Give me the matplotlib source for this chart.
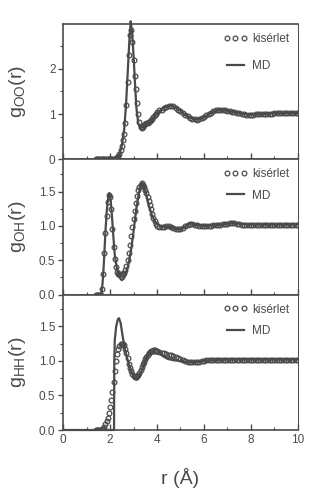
import matplotlib
matplotlib.use("Agg")
import matplotlib.pyplot as plt
import numpy as np

plt.rcParams["font.family"] = ["Liberation Sans", "DejaVu Sans"]

# experimental grid: 0.05 A steps up to 4 A, then 0.1 A steps
R_FINE = np.round(np.arange(1.40, 4.001, 0.05), 2)
R_COARSE = np.round(np.arange(4.1, 10.001, 0.1), 1)
r_exp = np.concatenate([R_FINE, R_COARSE])

# g_OO(r), experiment
goo_exp = [0.0] * 17 + [
    0.02, 0.04, 0.07, 0.12, 0.20, 0.30, 0.42, 0.55, 0.80, 1.20,
    1.70, 2.30, 2.75, 2.85, 2.60, 2.20, 1.85, 1.55, 1.25, 1.00,
    0.82, 0.72, 0.70, 0.72, 0.76, 0.79, 0.80, 0.81, 0.82, 0.84,
    0.86, 0.89, 0.93, 0.97, 1.00, 1.04,
] + [
    1.08, 1.10, 1.13, 1.15, 1.17, 1.18, 1.17, 1.14, 1.10, 1.06,
    1.02, 0.98, 0.95, 0.92, 0.90, 0.89, 0.88, 0.89, 0.91, 0.94,
    0.97, 1.00, 1.03, 1.06, 1.08, 1.09, 1.10, 1.09, 1.08, 1.07,
    1.06, 1.05, 1.04, 1.03, 1.02, 1.01, 1.00, 0.99, 0.99, 0.99,
    0.99, 1.00, 1.00, 1.00, 1.01, 1.01, 1.01, 1.01, 1.01, 1.02,
] + [1.02] * 10

# g_OH(r), experiment
goh_exp = [0.0] * 5 + [
    0.08, 0.30, 0.60, 0.90, 1.15, 1.35, 1.45, 1.42, 1.25, 0.95,
    0.70, 0.52, 0.40, 0.33, 0.30, 0.30, 0.30, 0.30, 0.30, 0.32,
    0.36, 0.42, 0.50, 0.60, 0.72, 0.85, 0.98, 1.10, 1.22, 1.34,
    1.44, 1.52, 1.57, 1.60, 1.62, 1.60, 1.57, 1.53, 1.48, 1.42,
    1.36, 1.30, 1.24, 1.18, 1.12, 1.07, 1.03, 1.00,
] + [
    0.98, 0.98, 0.99, 1.00, 1.00, 0.99, 0.97, 0.96, 0.95, 0.95,
    0.97, 1.00, 1.02, 1.03, 1.03, 1.02, 1.01, 1.00, 1.00, 1.00,
    1.00, 1.00, 1.00, 1.01, 1.01, 1.02, 1.02, 1.03, 1.03, 1.03,
    1.04, 1.04, 1.04, 1.03, 1.03, 1.02, 1.02, 1.02, 1.01, 1.01,
    1.01, 1.01, 1.01, 1.01, 1.01, 1.02, 1.02, 1.02, 1.02, 1.02,
] + [1.02] * 10

# g_HH(r), experiment
ghh_exp = [0.0] * 5 + [
    0.01, 0.02, 0.04, 0.08, 0.13, 0.18, 0.25, 0.33, 0.43, 0.55,
    0.70, 0.86, 1.00, 1.10, 1.17, 1.21, 1.24, 1.25, 1.25, 1.23,
    1.18, 1.11, 1.04, 0.96, 0.90, 0.85, 0.81, 0.78, 0.77, 0.77,
    0.78, 0.80, 0.83, 0.87, 0.91, 0.95, 0.99, 1.03, 1.06, 1.09,
    1.11, 1.13, 1.14, 1.15, 1.15, 1.15, 1.15, 1.14,
] + [
    1.13, 1.12, 1.11, 1.10, 1.09, 1.08, 1.07, 1.06, 1.04, 1.03,
    1.02, 1.00, 0.99, 0.98, 0.98, 0.98, 0.99, 0.99, 1.00, 1.00,
    1.01, 1.02, 1.02, 1.02, 1.02, 1.02, 1.02, 1.02, 1.02, 1.02,
] + [1.02] * 30

# MD curves
r_md_oo = [2.0, 2.2, 2.3, 2.4, 2.5, 2.6, 2.68, 2.75, 2.82, 2.88, 2.94, 3.0,
           3.06, 3.12, 3.2, 3.3, 3.4, 3.55, 3.75, 4.0, 4.3, 4.6, 4.9, 5.2,
           5.5, 5.75, 6.0, 6.4, 6.75, 7.2, 7.6, 8.0, 8.5, 9.0, 10.0]
g_md_oo = [0.0, 0.0, 0.02, 0.1, 0.3, 0.65, 1.2, 1.9, 2.6, 3.05, 2.8, 2.3,
           1.7, 1.15, 0.8, 0.68, 0.72, 0.8, 0.85, 1.02, 1.14, 1.19, 1.12, 0.98,
           0.9, 0.88, 0.93, 1.06, 1.1, 1.05, 1.01, 0.99, 1.0, 1.02, 1.02]

r_md_oh = [1.5, 1.6, 1.65, 1.7, 1.75, 1.8, 1.86, 1.92, 1.97, 2.02, 2.08,
           2.14, 2.2, 2.3, 2.4, 2.5, 2.6, 2.7, 2.8, 2.9, 3.0, 3.1, 3.2, 3.3,
           3.38, 3.45, 3.55, 3.65, 3.8, 3.95, 4.2, 4.5, 4.8, 5.0, 5.2, 5.4,
           5.6, 6.0, 6.5, 7.2, 8.0, 9.0, 10.0]
g_md_oh = [0.0, 0.0, 0.05, 0.25, 0.55, 0.9, 1.22, 1.42, 1.48, 1.4, 1.15,
           0.85, 0.58, 0.36, 0.25, 0.21, 0.24, 0.33, 0.47, 0.66, 0.92, 1.2,
           1.43, 1.58, 1.63, 1.58, 1.45, 1.3, 1.14, 1.04, 0.99, 0.99, 0.96,
           0.95, 0.99, 1.04, 1.02, 1.0, 1.01, 1.04, 1.02, 1.02, 1.02]

r_md_hh = [0.0, 2.17, 2.18, 2.2, 2.26, 2.33, 2.38, 2.45, 2.55, 2.65, 2.76,
           2.88, 2.98, 3.08, 3.16, 3.25, 3.4, 3.55, 3.7, 3.85, 3.96, 4.1,
           4.25, 4.45, 4.7, 5.0, 5.4, 5.8, 6.2, 7.0, 8.0, 10.0]
g_md_hh = [0.0, 0.0, 1.0, 1.3, 1.5, 1.6, 1.62, 1.55, 1.33, 1.15, 1.0,
           0.87, 0.79, 0.74, 0.73, 0.77, 0.91, 1.05, 1.14, 1.18, 1.18, 1.13,
           1.07, 1.03, 1.01, 1.0, 0.98, 0.99, 1.01, 1.02, 1.02, 1.02]

INK = "#4a4a4a"

panels = [
    ("g$_\\mathregular{OO}$(r)", goo_exp, r_md_oo, g_md_oo, 2.99, 1.0, 0.5, "%d", 1.3),
    ("g$_\\mathregular{OH}$(r)", goh_exp, r_md_oh, g_md_oh, 1.97, 0.5, 0.25, "%.1f", 0.8),
    ("g$_\\mathregular{HH}$(r)", ghh_exp, r_md_hh, g_md_hh, 1.96, 0.5, 0.25, "%.1f", 0.8),
]

fig, axes = plt.subplots(3, 1, sharex=True, figsize=(3.22, 5.0), dpi=100)
fig.subplots_adjust(left=0.196, right=0.925, bottom=0.14, top=0.952, hspace=0)

for ax, (label, g_exp, r_md, g_md, ytop, major, minor, fmt, lsp) in zip(axes, panels):
    ax.plot(r_exp, g_exp, linestyle="none", marker="o", markersize=3.4,
            markerfacecolor="none", markeredgecolor=INK, markeredgewidth=0.9,
            label="kisérlet")
    ax.plot(r_md, g_md, color=INK, linewidth=1.6, label="MD", clip_on=False)

    ax.set_xlim(0, 10)
    ax.set_ylim(0, ytop)
    ax.yaxis.set_major_locator(plt.MultipleLocator(major))
    ax.yaxis.set_minor_locator(plt.MultipleLocator(minor))
    ax.yaxis.set_major_formatter(plt.FormatStrFormatter(fmt))
    ax.xaxis.set_major_locator(plt.MultipleLocator(2))
    ax.xaxis.set_minor_locator(plt.MultipleLocator(1))
    ax.tick_params(axis="x", which="both", direction="in", colors=INK,
                   labelsize=8.5, pad=3)
    ax.tick_params(axis="x", which="major", length=4, width=1)
    ax.tick_params(axis="x", which="minor", length=2, width=0.8)
    ax.tick_params(axis="y", which="both", direction="out", colors=INK,
                   labelsize=8.5, pad=2)
    ax.tick_params(axis="y", which="major", length=3.5, width=1)
    ax.tick_params(axis="y", which="minor", length=2, width=0.8)
    for side in ["left", "bottom", "top"]:
        ax.spines[side].set_color(INK)
        ax.spines[side].set_linewidth(1.2)
    ax.spines["right"].set_color(INK)
    ax.spines["right"].set_linewidth(0.7)

    ax.set_ylabel(label, fontsize=14, color=INK, labelpad=8)
    ax.legend(loc="upper right", frameon=False, fontsize=8.5, numpoints=3,
              handlelength=2.0, handletextpad=0.4, labelspacing=lsp,
              borderaxespad=0.35, labelcolor=INK)

axes[-1].set_xlabel("r (Å)", fontsize=14, color=INK, labelpad=16)
fig.align_ylabels(axes)

fig.savefig("out.png", dpi=100)
